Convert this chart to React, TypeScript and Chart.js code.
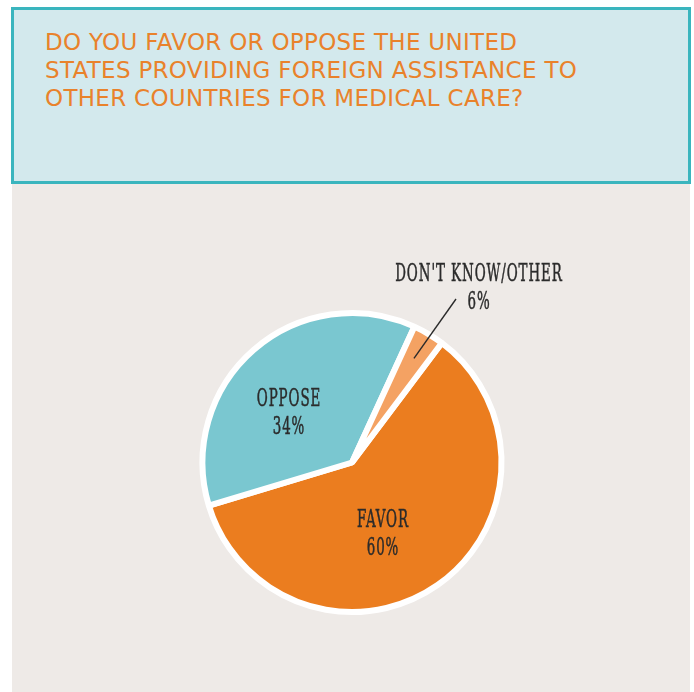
import React, { useEffect, useRef } from "react";
import { Chart, registerables } from "chart.js";

Chart.register(...registerables);

const titleLines = [
  "DO YOU FAVOR OR OPPOSE THE UNITED",
  "STATES PROVIDING FOREIGN ASSISTANCE TO",
  "OTHER COUNTRIES FOR MEDICAL CARE?",
];
const categories = ["FAVOR", "OPPOSE", "DON'T KNOW/OTHER"];
const labelPercents = ["60%", "34%", "6%"];
// slice sizes as drawn in the picture (percent of circle)
const shares = [60.1, 36.5, 3.4];
const sliceColors = ["#eb7d1f", "#7ac7d0", "#f4a263"];
const rotationDeg = 36.9;

const W = 694;
const H = 692;
const CX = 352;
const CY = 462.5;
const SIZE = 305;

const leaderPlugin = {
  id: "leader",
  afterDatasetsDraw(chart: any) {
    const meta = chart.getDatasetMeta(0);
    const arc = meta.data[2];
    if (!arc) return;
    const { x, y, startAngle, endAngle, outerRadius } = arc.getProps(
      ["x", "y", "startAngle", "endAngle", "outerRadius"],
      true
    );
    const mid = (startAngle + endAngle) / 2;
    const r = outerRadius * 0.81;
    const ctx = chart.ctx;
    ctx.save();
    ctx.strokeStyle = "#2a2a2a";
    ctx.lineWidth = 1.4;
    ctx.beginPath();
    ctx.moveTo(x + Math.cos(mid) * r, y + Math.sin(mid) * r);
    ctx.lineTo(456, 299);
    ctx.stroke();
    ctx.restore();
  },
};

const labelFont: React.CSSProperties = {
  position: "absolute",
  width: 300,
  textAlign: "center",
  fontFamily: '"DejaVu Serif Condensed", "DejaVu Serif", serif',
  fontStretch: "condensed",
  fontSize: 24,
  lineHeight: "28px",
  letterSpacing: "1.5px",
  color: "#2b2b2b",
  WebkitTextStroke: "0.5px #2b2b2b",
  transform: "scaleX(0.62)",
  transformOrigin: "center",
  whiteSpace: "nowrap",
};

export default function App() {
  const ref = useRef<HTMLCanvasElement | null>(null);
  useEffect(() => {
    if (!ref.current) return;
    const chart = new Chart(ref.current, {
      type: "pie",
      data: {
        labels: categories,
        datasets: [
          {
            data: shares,
            backgroundColor: sliceColors,
            borderColor: "#ffffff",
            borderWidth: 6,
            borderAlign: "center",
          },
        ],
      },
      options: {
        responsive: false,
        animation: false,
        rotation: rotationDeg,
        layout: {
          padding: {
            left: CX - SIZE / 2,
            right: W - (CX + SIZE / 2),
            top: CY - SIZE / 2,
            bottom: H - (CY + SIZE / 2),
          },
        },
        plugins: {
          legend: { display: false },
          tooltip: { enabled: false },
        },
      },
      plugins: [leaderPlugin],
    });
    return () => chart.destroy();
  }, []);

  return (
    <div
      style={{
        position: "absolute",
        left: 0,
        top: 0,
        width: W,
        height: H,
        background: "#ffffff",
        overflow: "hidden",
      }}
    >
      <div
        style={{
          position: "absolute",
          left: 12,
          top: 183,
          width: 678,
          height: 509,
          background: "#eeeae7",
        }}
      />
      <div
        style={{
          position: "absolute",
          left: 11,
          top: 7,
          width: 680,
          height: 177,
          boxSizing: "border-box",
          border: "3px solid #3ab5be",
          background: "#d3e9ed",
        }}
      />
      <div
        style={{
          position: "absolute",
          left: 45,
          top: 28,
          fontFamily: '"DejaVu Sans", sans-serif',
          fontSize: 23,
          lineHeight: "28px",
          letterSpacing: "0.3px",
          color: "#e9822b",
          whiteSpace: "nowrap",
        }}
      >
        {titleLines.map((t, i) => (
          <div key={i}>{t}</div>
        ))}
      </div>
      <canvas
        ref={ref}
        width={W}
        height={H}
        style={{ position: "absolute", left: 0, top: 0, width: W, height: H }}
      />
      <div style={{ ...labelFont, left: 479 - 150, top: 259 }}>
        <div>{categories[2]}</div>
        <div>{labelPercents[2]}</div>
      </div>
      <div style={{ ...labelFont, left: 289 - 150, top: 384 }}>
        <div>{categories[1]}</div>
        <div>{labelPercents[1]}</div>
      </div>
      <div style={{ ...labelFont, left: 383 - 150, top: 505 }}>
        <div>{categories[0]}</div>
        <div>{labelPercents[0]}</div>
      </div>
    </div>
  );
}
